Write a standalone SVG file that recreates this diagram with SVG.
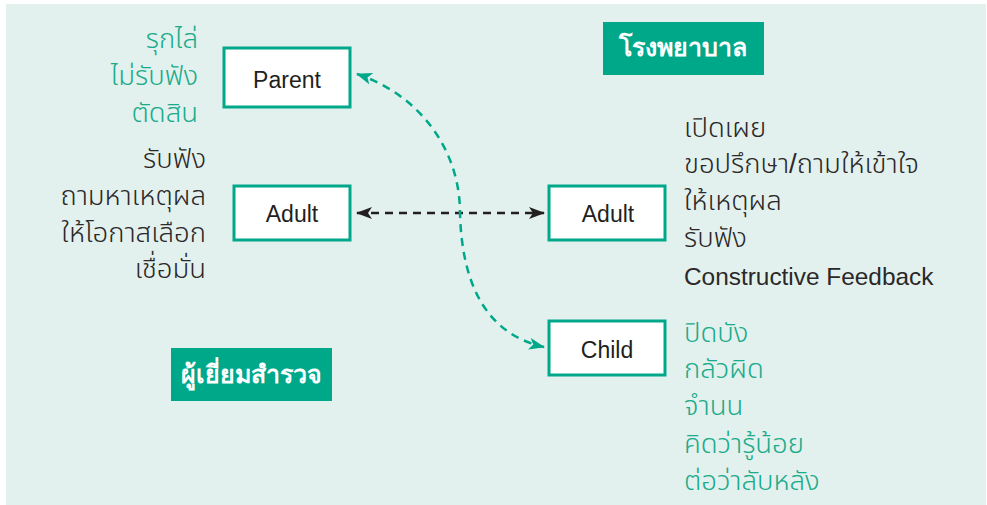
<svg xmlns="http://www.w3.org/2000/svg" width="987" height="505" viewBox="0 0 987 505">
<style>
.bg{fill:#e3f1ee}
.box{fill:#ffffff;stroke:#00a88a;stroke-width:3}
.tag{fill:#00a88a}
.lbl{font-family:"Liberation Sans","Noto Sans",sans-serif;font-size:23px;fill:#231f20;text-anchor:middle}
.tagt{font-family:"Liberation Sans","Noto Sans",sans-serif;font-size:25px;font-weight:bold;fill:#ffffff;text-anchor:middle}
.t{font-family:"Liberation Sans","Noto Sans Thai","Noto Sans",sans-serif;font-size:27.5px;font-weight:300;fill:#2b2829}
.en{font-size:24.4px}
.g{fill:#1aab8a}
.r{text-anchor:end}
.dk{fill:none;stroke:#231f20;stroke-width:2.5;stroke-dasharray:8 6}
.gr{fill:none;stroke:#00a88a;stroke-width:2.5;stroke-dasharray:8 6}
</style>
<defs>
<marker id="ak" viewBox="0 0 16 12" refX="15" refY="6" markerWidth="16" markerHeight="12" markerUnits="userSpaceOnUse" orient="auto-start-reverse"><path d="M0,0 L16,6 L0,12 L4,6 Z" fill="#231f20"/></marker>
<marker id="ag" viewBox="0 0 16 12" refX="15" refY="6" markerWidth="16" markerHeight="12" markerUnits="userSpaceOnUse" orient="auto-start-reverse"><path d="M0,0 L16,6 L0,12 L4,6 Z" fill="#00a88a"/></marker>
</defs>
<rect class="bg" x="6" y="4" width="980" height="501"/>

<g id="connectors">
<path class="dk" d="M357,213 L544,213" marker-start="url(#ak)" marker-end="url(#ak)"/>
<path class="gr" d="M357,74 C420,95 460,150 460,213 C462,290 490,335 544,347" marker-start="url(#ag)" marker-end="url(#ag)"/>
</g>

<g id="parent">
<rect class="box" x="224" y="48" width="126" height="59"/>
<text class="lbl" x="287" y="88">Parent</text>
</g>
<g id="adult-left">
<rect class="box" x="234" y="186" width="116" height="54"/>
<text class="lbl" x="292" y="222">Adult</text>
</g>
<g id="adult-right">
<rect class="box" x="549" y="186" width="116" height="54"/>
<text class="lbl" x="608" y="222">Adult</text>
</g>
<g id="child">
<rect class="box" x="549" y="321" width="116" height="54"/>
<text class="lbl" x="607" y="358">Child</text>
</g>

<g id="hospital">
<rect class="tag" x="603" y="22" width="161" height="53"/>
<text class="tagt" x="683" y="56">โรงพยาบาล</text>
</g>
<g id="surveyor">
<rect class="tag" x="171" y="348" width="161" height="53"/>
<text class="tagt" x="251" y="383">ผู้เยี่ยมสำรวจ</text>
</g>

<g id="parent-traits">
<text class="t g r" x="198" y="48">รุกไล่</text>
<text class="t g r" x="198" y="85">ไม่รับฟัง</text>
<text class="t g r" x="198" y="122">ตัดสิน</text>
</g>
<g id="adult-left-traits">
<text class="t r" x="206" y="168">รับฟัง</text>
<text class="t r" x="206" y="205">ถามหาเหตุผล</text>
<text class="t r" x="206" y="242">ให้โอกาสเลือก</text>
<text class="t r" x="206" y="278">เชื่อมั่น</text>
</g>
<g id="adult-right-traits">
<text class="t" x="684" y="137">เปิดเผย</text>
<text class="t" x="684" y="173">ขอปรึกษา/ถามให้เข้าใจ</text>
<text class="t" x="684" y="210">ให้เหตุผล</text>
<text class="t" x="684" y="247">รับฟัง</text>
<text class="t en" x="684" y="285">Constructive Feedback</text>
</g>
<g id="child-traits">
<text class="t g" x="684" y="342">ปิดบัง</text>
<text class="t g" x="684" y="378">กลัวผิด</text>
<text class="t g" x="684" y="415">จำนน</text>
<text class="t g" x="684" y="453">คิดว่ารู้น้อย</text>
<text class="t g" x="684" y="490">ต่อว่าลับหลัง</text>
</g>
</svg>
